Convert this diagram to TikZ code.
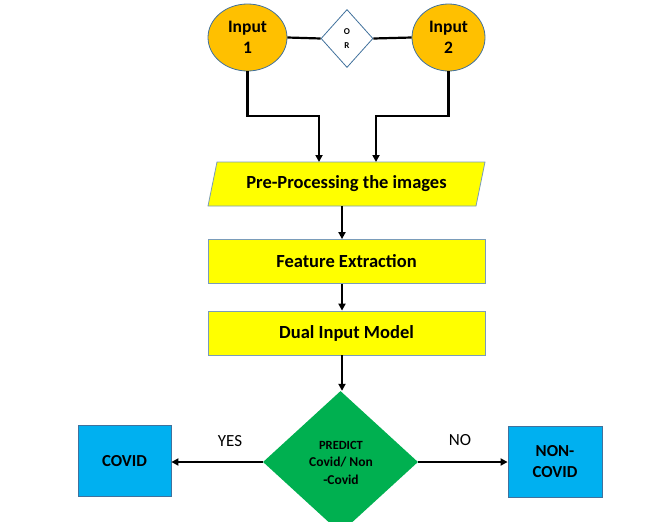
\documentclass[tikz,border=0pt]{standalone}
\usepackage{fontspec}
\setmainfont{Carlito}
\usetikzlibrary{shapes.geometric,arrows.meta}
\definecolor{edgeblue}{HTML}{41719C}
\definecolor{inorange}{HTML}{FFC000}
\definecolor{boxyellow}{HTML}{FFFF00}
\definecolor{decgreen}{HTML}{00B050}
\definecolor{outblue}{HTML}{00B0F0}
\tikzset{
  inell/.style={ellipse, draw=edgeblue, line width=0.8pt, fill=inorange, minimum width=79pt, minimum height=67pt, inner sep=0pt, align=center, font=\fontsize{17.5}{21}\selectfont\bfseries},
  ordia/.style={diamond, draw=edgeblue, line width=0.8pt, fill=white, minimum width=52pt, minimum height=58pt, inner sep=0pt, align=center, font=\fontsize{9}{14}\selectfont\bfseries},
  procbox/.style={rectangle, draw=edgeblue!70, line width=0.8pt, fill=boxyellow, minimum width=277pt, minimum height=44pt, inner sep=0pt, font=\fontsize{18.5}{22}\selectfont\bfseries},
  decdia/.style={diamond, fill=decgreen, minimum width=155pt, minimum height=142pt, inner sep=0pt, align=center},
  outbox/.style={rectangle, draw=edgeblue, line width=0.8pt, fill=outblue, minimum width=93pt, minimum height=71pt, inner sep=0pt, align=center, font=\fontsize{16.8}{21}\selectfont\bfseries},
  conn/.style={line width=2.2pt, black},
  arr/.style={conn, -{Triangle[length=7pt,width=7pt]}},
  lbl/.style={font=\fontsize{17}{19}\selectfont}
}
\begin{document}
\begin{tikzpicture}[x=1pt,y=-1pt]
\useasboundingbox (0,0) rectangle (672,522);
\clip (0,0) rectangle (672,522);
% inputs
\node[inell] (in1) at (247.5,37.5) {Input\\1};
\node[inell, minimum width=73pt] (in2) at (448.5,37.5) {Input\\2};
\node[ordia] (or) at (347,38.5) {O\\R};
\draw[conn] (in1.east) -- (or.west);
\draw[conn] (or.east) -- (in2.east -| in2.west);
% parallelogram
\coordinate (ptl) at (217,162);
\coordinate (ptr) at (485,162);
\coordinate (pbr) at (476,206);
\coordinate (pbl) at (208,206);
\draw[draw=edgeblue!70, line width=0.8pt, fill=boxyellow] (ptl) -- (ptr) -- (pbr) -- (pbl) -- cycle;
\node[font=\fontsize{18.5}{22}\selectfont\bfseries] (pre) at (346.5,184) {Pre-Processing the images};
\coordinate (pretop) at (346.5,162);
\coordinate (prebot) at (342,206);
% connectors from inputs
\coordinate (j1) at (319,116);
\coordinate (j2) at (376,116);
\draw[arr] (in1.south) |- (j1) -- (j1 |- pretop);
\draw[arr] (in2.south) |- (j2) -- (j2 |- pretop);
% process boxes
\node[procbox] (feat) at (346.5,261.5) {Feature Extraction};
\node[procbox] (dual) at (346.5,333) {Dual Input Model};
\draw[arr] (prebot) -- (prebot |- feat.north);
\draw[arr] (feat.south -| prebot) -- (prebot |- dual.north);
% decision
\node[decdia] (pred) at (340.5,462) {};
\node[font=\fontsize{12.5}{14}\selectfont\bfseries] (p1) at (341,445) {PREDICT};
\node[font=\fontsize{13.5}{16}\selectfont\bfseries] (p2) at (341,462) {Covid/ Non};
\node[font=\fontsize{13.5}{16}\selectfont\bfseries] (p3) at (341,480) {-Covid};
\draw[arr] (dual.south -| prebot) -- (prebot |- pred.north);
% outputs
\node[outbox] (cov) at (124.5,461) {COVID};
\node[outbox, minimum width=94pt] (ncov) at (555,461.5) {NON-\\COVID};
\draw[arr] (pred.west) -- (pred.west -| cov.east);
\draw[arr] (pred.east) -- (pred.east -| ncov.west);
\node[lbl] (yes) at (230,441) {YES};
\node[lbl] (no) at (460,440) {NO};
\end{tikzpicture}
\end{document}
